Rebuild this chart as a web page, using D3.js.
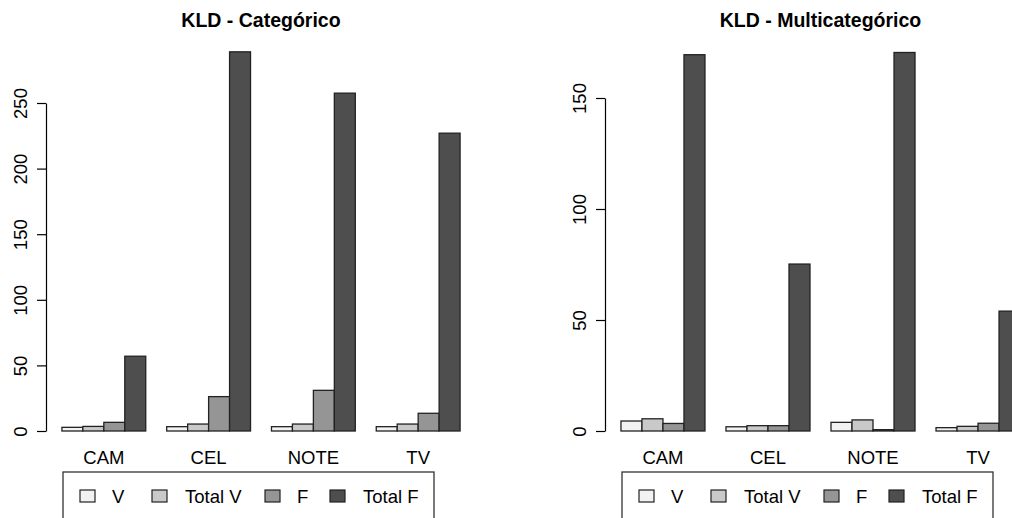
<!DOCTYPE html>
<html>
<head>
<meta charset="utf-8">
<script src="https://cdn.jsdelivr.net/npm/d3@7"></script>
<style>
  body { margin: 0; background: #fff; }
  svg text { font-family: "Liberation Sans", Arial, sans-serif; fill: #000; }
</style>
</head>
<body>
<svg id="chart" width="1012" height="518"></svg>
<script>
// categories and series
var categories = ["CAM", "CEL", "NOTE", "TV"];
var series = ["V", "Total V", "F", "Total F"];
var colors = ["#f2f2f2", "#c9c9c9", "#959595", "#4e4e4e"];

// KLD - Categórico (values per category: V, Total V, F, Total F)
var catV      = [2.8, 3.3, 3.3, 3.3];
var catTotalV = [3.5, 5.3, 5.3, 5.3];
var catF      = [6.6, 26.2, 31, 13.5];
var catTotalF = [57, 289, 257.5, 227];
var catTicks  = [0, 50, 100, 150, 200, 250];

// KLD - Multicategórico
var mulV      = [4.5, 1.9, 3.9, 1.5];
var mulTotalV = [5.5, 2.4, 5, 2.1];
var mulF      = [3.4, 2.4, 0.6, 3.5];
var mulTotalF = [169.5, 75.2, 170.5, 54];
var mulTicks  = [0, 50, 100, 150];

var svg = d3.select("#chart");

function drawPanel(opt) {
  var data = categories.map(function(c, i) {
    return { cat: c, values: opt.values.map(function(v) { return v[i]; }) };
  });

  // R barplot layout: each group = 1 space + 4 bars, usr padded 4%
  var x = d3.scaleLinear().domain([0.24, 20.76]).range([opt.left, opt.right]);
  var y = d3.scaleLinear().domain([0, opt.ticks[opt.ticks.length - 1]]).range([431, opt.topPx]);

  var g = svg.append("g");

  g.append("text")
    .attr("x", (opt.left + opt.right) / 2)
    .attr("y", 27)
    .attr("text-anchor", "middle")
    .style("font-weight", "bold")
    .style("font-size", "19.5px")
    .text(opt.title);

  var groups = g.selectAll(".grp")
    .data(data)
    .enter().append("g")
    .attr("class", "grp");

  groups.selectAll("rect")
    .data(function(d, gi) { return d.values.map(function(v, j) { return { v: v, j: j, gi: gi }; }); })
    .enter().append("rect")
    .attr("x", function(d) { return x(1 + d.gi * 5 + d.j); })
    .attr("width", function(d) { return x(2 + d.gi * 5 + d.j) - x(1 + d.gi * 5 + d.j); })
    .attr("y", function(d) { return y(d.v); })
    .attr("height", function(d) { return y(0) - y(d.v); })
    .attr("fill", function(d) { return colors[d.j]; })
    .attr("stroke", "#222")
    .attr("stroke-width", 1.3);

  groups.append("text")
    .attr("x", function(d, gi) { return x(1 + gi * 5 + 2); })
    .attr("y", 463.5)
    .attr("text-anchor", "middle")
    .style("font-size", "18.5px")
    .text(function(d) { return d.cat; });

  var ax = g.append("g")
    .attr("transform", "translate(" + opt.left + ",0)")
    .call(d3.axisLeft(y).tickValues(opt.ticks).tickSize(9).tickSizeOuter(0).tickFormat(d3.format("d")));
  ax.select(".domain").attr("stroke", "#000").attr("stroke-width", 1.2);
  ax.selectAll(".tick line").attr("stroke", "#000").attr("stroke-width", 1.2);
  ax.selectAll(".tick text")
    .attr("x", 0).attr("dy", null)
    .attr("transform", "translate(-19,0) rotate(-90)")
    .attr("text-anchor", "middle")
    .style("font-size", "18.5px")
    .style("font-family", "'Liberation Sans', Arial, sans-serif")
    .attr("fill", "#000");

  // legend
  var lx = opt.left + 17;
  g.append("rect")
    .attr("x", lx).attr("y", 472)
    .attr("width", 371).attr("height", 52)
    .attr("fill", "none").attr("stroke", "#333").attr("stroke-width", 1.3);
  var boxOff = [17, 89, 202, 267];
  var txtOff = [49, 122, 234, 300];
  var items = g.selectAll(".leg")
    .data(series)
    .enter().append("g").attr("class", "leg");
  items.append("rect")
    .attr("x", function(d, i) { return lx + boxOff[i]; })
    .attr("y", 490)
    .attr("width", 15).attr("height", 12)
    .attr("fill", function(d, i) { return colors[i]; })
    .attr("stroke", "#222").attr("stroke-width", 1.2);
  items.append("text")
    .attr("x", function(d, i) { return lx + txtOff[i]; })
    .attr("y", 502.5)
    .style("font-size", "18.5px")
    .text(function(d) { return d; });
}

drawPanel({
  title: "KLD - Categórico",
  values: [catV, catTotalV, catF, catTotalF],
  ticks: catTicks, topPx: 103,
  left: 46, right: 476
});

drawPanel({
  title: "KLD - Multicategórico",
  values: [mulV, mulTotalV, mulF, mulTotalF],
  ticks: mulTicks, topPx: 98,
  left: 605, right: 1036
});
</script>
</body>
</html>
